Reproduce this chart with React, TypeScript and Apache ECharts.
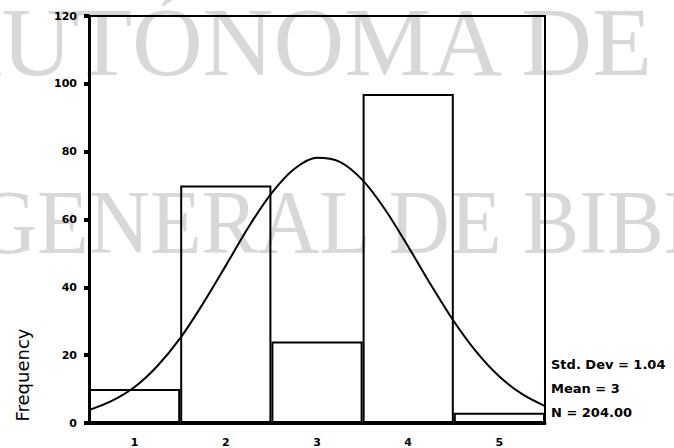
import React, { useEffect, useRef } from "react";
import * as echarts from "echarts";

const categories = ["1", "2", "3", "4", "5"];
const frequencies = [10, 70, 24, 97, 3];
const yMin = 0;
const yMax = 120;
const yStep = 20;
const curveX = [0.5, 0.75, 1.0, 1.25, 1.5, 1.75, 2.0, 2.25, 2.5, 2.75, 3.0, 3.25, 3.5, 3.75, 4.0, 4.25, 4.5, 4.75, 5.0, 5.25, 5.5];
const curveY = [3.8, 6.5, 10.6, 16.8, 25.0, 35.2, 46.4, 57.8, 67.7, 74.9, 78.2, 77.0, 71.6, 62.8, 52.0, 40.7, 30.0, 20.9, 13.7, 8.5, 5.0];
const statsLines = ["Std. Dev = 1.04", "Mean = 3", "N = 204.00"];
const yAxisTitle = "Frequency";
const watermarkLines = ["AUTÓNOMA DE", "GENERAL DE BIBLIOTECAS"];

export default function App() {
  const ref = useRef<HTMLDivElement>(null);
  useEffect(() => {
    if (!ref.current) return;
    const chart = echarts.init(ref.current, null, { renderer: "svg" });
    const labelFont = "DejaVu Sans";
    const option: any = {
      animation: false,
      backgroundColor: "#ffffff",
      grid: {
        left: 89,
        top: 16,
        right: 129,
        bottom: 25,
        show: true,
        borderColor: "#000",
        borderWidth: 2,
        backgroundColor: "transparent",
      },
      xAxis: [
        {
          type: "category",
          data: categories,
          boundaryGap: true,
          axisLine: { show: true, lineStyle: { color: "#000", width: 3 } },
          axisTick: { show: false },
          axisLabel: {
            color: "#000",
            fontFamily: labelFont,
            fontWeight: "bold",
            fontSize: 11,
            margin: 14,
          },
          splitLine: { show: false },
        },
        {
          type: "value",
          min: 0.5,
          max: 5.5,
          show: false,
        },
      ],
      yAxis: {
        type: "value",
        min: yMin,
        max: yMax,
        interval: yStep,
        axisLine: { show: true, lineStyle: { color: "#000", width: 3 } },
        axisTick: { show: true, length: 5, lineStyle: { color: "#000", width: 4 } },
        axisLabel: {
          color: "#000",
          fontFamily: labelFont,
          fontWeight: "bold",
          fontSize: 11,
          margin: 12,
        },
        splitLine: { show: false },
      },
      graphic: [
        {
          type: "text",
          z: -10,
          x: 652,
          y: 42,
          scaleX: 1.0,
          style: {
            text: watermarkLines[0],
            font: "98px 'Liberation Serif'",
            fill: "#d8d8d8",
            align: "right",
            verticalAlign: "middle",
          },
        },
        {
          type: "text",
          z: -10,
          x: -24,
          y: 222,
          scaleX: 0.93,
          style: {
            text: watermarkLines[1],
            font: "91px 'Liberation Serif'",
            fill: "#d8d8d8",
            align: "left",
            verticalAlign: "middle",
          },
        },
        {
          type: "text",
          x: 22,
          y: 375,
          rotation: Math.PI / 2,
          style: {
            text: yAxisTitle,
            font: "18px 'DejaVu Sans'",
            fill: "#000",
            align: "center",
            verticalAlign: "middle",
          },
        },
        ...statsLines.map((t, i) => ({
          type: "text",
          x: 551,
          y: 364 + i * 24,
          style: {
            text: t,
            font: "bold 13px 'DejaVu Sans'",
            fill: "#000",
            align: "left",
            verticalAlign: "middle",
          },
        })),
      ],
      series: [
        {
          type: "bar",
          data: frequencies,
          xAxisIndex: 0,
          barCategoryGap: "0%",
          itemStyle: { color: "transparent", borderColor: "#000", borderWidth: 2 },
          silent: true,
        },
        {
          type: "line",
          xAxisIndex: 1,
          data: curveX.map((x, i) => [x, curveY[i]]),
          smooth: 0.3,
          symbol: "none",
          lineStyle: { color: "#000", width: 2 },
          silent: true,
          z: 3,
        },
      ],
    };
    chart.setOption(option);
    return () => chart.dispose();
  }, []);
  return (
    <div
      ref={ref}
      style={{ position: "fixed", left: 0, top: 0, width: 674, height: 448, background: "#fff" }}
    />
  );
}
